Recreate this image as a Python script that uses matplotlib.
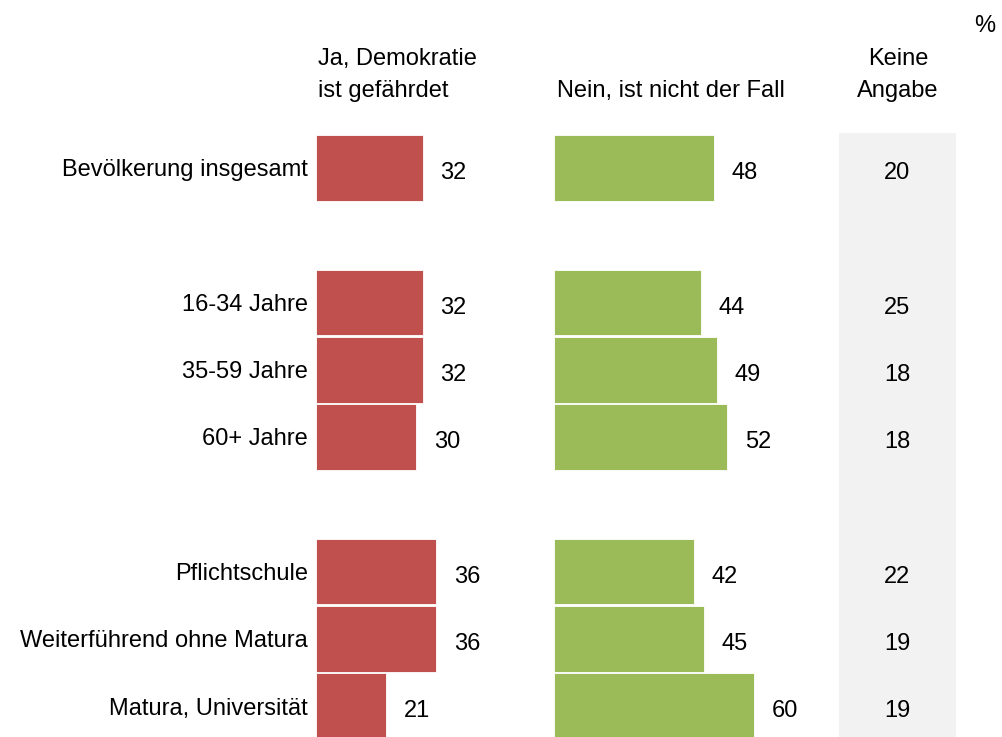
import matplotlib.pyplot as plt

plt.rcParams['font.family'] = ['Liberation Sans', 'DejaVu Sans']

groups = ['Bevölkerung insgesamt', '16-34 Jahre', '35-59 Jahre', '60+ Jahre',
          'Pflichtschule', 'Weiterführend ohne Matura', 'Matura, Universität']
rows = [0, 2, 3, 4, 6, 7, 8]   # empty rows 1 and 5 separate the blocks
ja = [32, 32, 32, 30, 36, 36, 21]
nein = [48, 44, 49, 52, 42, 45, 60]
keine = [20, 25, 18, 18, 22, 19, 19]

RED = '#C0504D'
GREEN = '#9BBB59'
GREY = '#F2F2F2'
FS = 17

W, H = 1003, 737
fig = plt.figure(figsize=(W / 100, H / 100), dpi=100)

# px per percent point, row pitch in px
scale = 3.33
pitch = 67.3
y_first = 167.8
top_px, bot_px = 133.3, 737
ylim = ((bot_px - y_first) / pitch, (top_px - y_first) / pitch)


def px_axes(x0, x1):
    return fig.add_axes([x0 / W, 1 - bot_px / H, (x1 - x0) / W, (bot_px - top_px) / H])


def clean(ax):
    for s in ax.spines.values():
        s.set_visible(False)
    ax.set_ylim(*ylim)
    ax.tick_params(length=0)
    ax.set_xticks([])


# Ja column
ax_ja = px_axes(316.5, 516.5)
ax_ja.barh(rows, ja, height=0.976, color=RED, edgecolor='white', linewidth=0.6)
ax_ja.set_xlim(0, 200 / scale)
clean(ax_ja)
ax_ja.set_yticks(rows, groups, fontsize=FS)
ax_ja.tick_params(axis='y', pad=6)
for y, v in zip(rows, ja):
    ax_ja.annotate(str(v), (v, y), xytext=(22, -2), textcoords='offset points',
                   ha='center', va='center_baseline', fontsize=FS)

# Nein column
ax_nein = px_axes(554.3, 814.3)
ax_nein.barh(rows, nein, height=0.976, color=GREEN, edgecolor='white', linewidth=0.6)
ax_nein.set_xlim(0, 260 / scale)
clean(ax_nein)
ax_nein.set_yticks([])
for y, v in zip(rows, nein):
    ax_nein.annotate(str(v), (v, y), xytext=(22, -2), textcoords='offset points',
                     ha='center', va='center_baseline', fontsize=FS)

# Keine Angabe column
ax_k = px_axes(839, 955.7)
ax_k.set_facecolor(GREY)
ax_k.set_xlim(0, 1)
clean(ax_k)
ax_k.set_yticks([])
for y, v in zip(rows, keine):
    ax_k.annotate(str(v), (0.5, y), xytext=(0, -2), textcoords='offset points',
                  ha='center', va='center_baseline', fontsize=FS)


def ftext(x, y, s, ha='left'):
    fig.text(x / W, 1 - y / H, s, ha=ha, va='baseline', fontsize=FS)


ftext(318, 65, 'Ja, Demokratie')
ftext(318, 97, 'ist gefährdet')
ftext(557, 97, 'Nein, ist nicht der Fall')
ftext(898, 65, 'Keine', ha='center')
ftext(898, 97, 'Angabe', ha='center')
ftext(985, 32, '%', ha='center')

fig.savefig('out.png', dpi=100)
